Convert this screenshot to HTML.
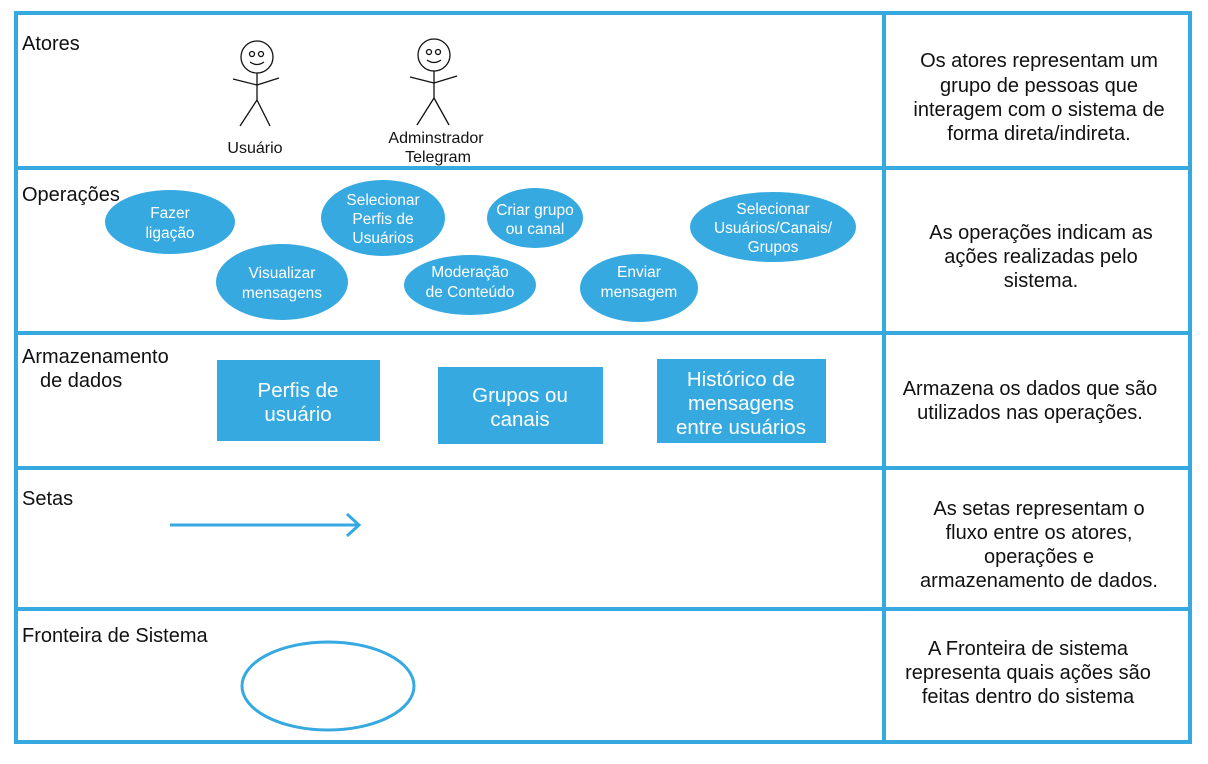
<!DOCTYPE html>
<html><head><meta charset="utf-8"><style>
body{margin:0;background:#fff;}
svg text{font-family:"Liberation Sans",sans-serif;}
</style></head><body>
<svg width="1208" height="759" xmlns="http://www.w3.org/2000/svg">
<rect width="1208" height="759" fill="#fff"/>
<g stroke="#36a9e1" stroke-width="4" fill="none">
<rect x="16" y="13" width="1174" height="729"/>
<line x1="16" y1="168" x2="1190" y2="168"/>
<line x1="16" y1="333" x2="1190" y2="333"/>
<line x1="16" y1="468" x2="1190" y2="468"/>
<line x1="16" y1="609" x2="1190" y2="609"/>
<line x1="884" y1="13" x2="884" y2="742"/>
</g>
<g font-size="20" fill="#111">
<text x="22" y="50">Atores</text>
<text x="22" y="201">Operações</text>
<text x="22" y="363">Armazenamento</text>
<text x="40" y="387">de dados</text>
<text x="22" y="505">Setas</text>
<text x="22" y="642">Fronteira de Sistema</text>
</g>
<g stroke="#111" stroke-width="1.3" fill="none">
<circle cx="257" cy="57" r="16"/><circle cx="252" cy="54" r="2.5"/><circle cx="261" cy="54" r="2.5"/>
<path d="M250 62 Q257 67 264 62"/>
<line x1="257" y1="73" x2="257" y2="100"/><line x1="233" y1="79" x2="257" y2="85"/><line x1="257" y1="85" x2="279" y2="78"/>
<line x1="257" y1="100" x2="240" y2="126"/><line x1="257" y1="100" x2="270" y2="126"/>
<circle cx="434" cy="55" r="16"/><circle cx="429" cy="52" r="2.5"/><circle cx="438" cy="52" r="2.5"/>
<path d="M427 60 Q434 65 441 60"/>
<line x1="434" y1="71" x2="434" y2="98"/><line x1="410" y1="77" x2="434" y2="83"/><line x1="434" y1="83" x2="457" y2="76"/>
<line x1="434" y1="98" x2="417" y2="125"/><line x1="434" y1="98" x2="449" y2="125"/>
</g>
<g font-size="16" fill="#111" text-anchor="middle">
<text x="255" y="153">Usuário</text>
<text x="436" y="143">Adminstrador</text>
<text x="438" y="162">Telegram</text>
</g>
<g fill="#36a9e1">
<ellipse cx="170" cy="222" rx="65" ry="32"/>
<ellipse cx="282" cy="282" rx="66" ry="38"/>
<ellipse cx="383" cy="218" rx="62" ry="38"/>
<ellipse cx="470" cy="285" rx="66" ry="30"/>
<ellipse cx="535" cy="218" rx="48" ry="30"/>
<ellipse cx="639" cy="288" rx="59" ry="34"/>
<ellipse cx="773" cy="227" rx="83" ry="35"/>
<rect x="217" y="360" width="163" height="81"/>
<rect x="438" y="367" width="165" height="77"/>
<rect x="657" y="359" width="169" height="84"/>
</g>
<g font-size="15.5" fill="#fff" text-anchor="middle">
<text x="170" y="218">Fazer</text><text x="170" y="238">ligação</text>
<text x="282" y="278">Visualizar</text><text x="282" y="298">mensagens</text>
<text x="383" y="205">Selecionar</text><text x="383" y="224">Perfis de</text><text x="383" y="243">Usuários</text>
<text x="470" y="277">Moderação</text><text x="470" y="297">de Conteúdo</text>
<text x="535" y="215">Criar grupo</text><text x="535" y="234">ou canal</text>
<text x="639" y="277">Enviar</text><text x="639" y="297">mensagem</text>
<text x="773" y="214">Selecionar</text><text x="773" y="233">Usuários/Canais/</text><text x="773" y="252">Grupos</text>
</g>
<g font-size="20.5" fill="#fff" text-anchor="middle">
<text x="298" y="397">Perfis de</text><text x="298" y="421">usuário</text>
<text x="520" y="402">Grupos ou</text><text x="520" y="426">canais</text>
<text x="741" y="386">Histórico de</text><text x="741" y="410">mensagens</text><text x="741" y="434">entre usuários</text>
</g>
<g stroke="#36a9e1" stroke-width="3" fill="none">
<line x1="170" y1="525" x2="358" y2="525"/>
<polyline points="347,514 359,525 347,536"/>
<ellipse cx="328" cy="686" rx="86" ry="44"/>
</g>
<g font-size="20" fill="#111" text-anchor="middle">
<text x="1039" y="67">Os atores representam um</text>
<text x="1039" y="92">grupo de pessoas que</text>
<text x="1039" y="116">interagem com o sistema de</text>
<text x="1039" y="140">forma direta/indireta.</text>
<text x="1041" y="239">As operações indicam as</text>
<text x="1041" y="263">ações realizadas pelo</text>
<text x="1041" y="287">sistema.</text>
<text x="1030" y="395">Armazena os dados que são</text>
<text x="1030" y="419">utilizados nas operações.</text>
<text x="1039" y="515">As setas representam o</text>
<text x="1039" y="539">fluxo entre os atores,</text>
<text x="1039" y="563">operações e</text>
<text x="1039" y="587">armazenamento de dados.</text>
<text x="1028" y="655">A Fronteira de sistema</text>
<text x="1028" y="679">representa quais ações são</text>
<text x="1028" y="703">feitas dentro do sistema</text>
</g>
</svg>
</body></html>
